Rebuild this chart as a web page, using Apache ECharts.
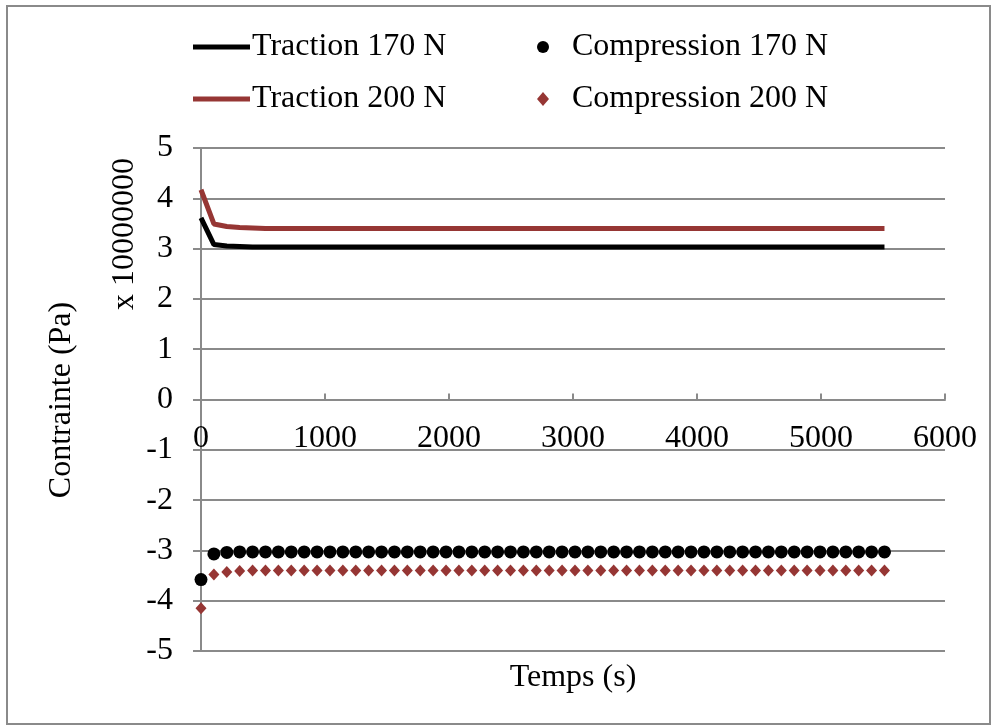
<!DOCTYPE html>
<html>
<head>
<meta charset="utf-8">
<script src="https://cdn.jsdelivr.net/npm/echarts@6/dist/echarts.min.js"></script>
<style>
  html, body { margin: 0; padding: 0; background: #fff; }
  #main { width: 997px; height: 726px; }
</style>
</head>
<body>
<div id="main"></div>
<script>
// temps (s)
var temps = [0, 104, 208, 312, 416, 520, 624, 728, 832, 936, 1040, 1144, 1248, 1352, 1456, 1560, 1664, 1768,
    1872, 1976, 2080, 2184, 2288, 2392, 2496, 2600, 2704, 2808, 2912, 3016, 3120, 3224, 3328, 3432, 3536,
    3640, 3744, 3848, 3952, 4056, 4160, 4264, 4368, 4472, 4576, 4680, 4784, 4888, 4992, 5096, 5200, 5304,
    5408, 5512];

// contrainte (x 10000000 Pa)
var traction170 = [3.61, 3.08, 3.05, 3.04, 3.03, 3.03, 3.03, 3.03, 3.03, 3.03, 3.03, 3.03, 3.03, 3.03,
    3.03, 3.03, 3.03, 3.03, 3.03, 3.03, 3.03, 3.03, 3.03, 3.03, 3.03, 3.03, 3.03, 3.03, 3.03, 3.03, 3.03,
    3.03, 3.03, 3.03, 3.03, 3.03, 3.03, 3.03, 3.03, 3.03, 3.03, 3.03, 3.03, 3.03, 3.03, 3.03, 3.03, 3.03,
    3.03, 3.03, 3.03, 3.03, 3.03, 3.03];
var traction200 = [4.17, 3.49, 3.44, 3.42, 3.41, 3.40, 3.40, 3.40, 3.40, 3.40, 3.40, 3.40, 3.40, 3.40,
    3.40, 3.40, 3.40, 3.40, 3.40, 3.40, 3.40, 3.40, 3.40, 3.40, 3.40, 3.40, 3.40, 3.40, 3.40, 3.40, 3.40,
    3.40, 3.40, 3.40, 3.40, 3.40, 3.40, 3.40, 3.40, 3.40, 3.40, 3.40, 3.40, 3.40, 3.40, 3.40, 3.40, 3.40,
    3.40, 3.40, 3.40, 3.40, 3.40, 3.40];
var compression170 = [-3.58, -3.07, -3.04, -3.03, -3.03, -3.03, -3.03, -3.03, -3.03, -3.03, -3.03, -3.03,
    -3.03, -3.03, -3.03, -3.03, -3.03, -3.03, -3.03, -3.03, -3.03, -3.03, -3.03, -3.03, -3.03, -3.03, -3.03,
    -3.03, -3.03, -3.03, -3.03, -3.03, -3.03, -3.03, -3.03, -3.03, -3.03, -3.03, -3.03, -3.03, -3.03, -3.03,
    -3.03, -3.03, -3.03, -3.03, -3.03, -3.03, -3.03, -3.03, -3.03, -3.03, -3.03, -3.03];
var compression200 = [-4.15, -3.48, -3.43, -3.41, -3.40, -3.40, -3.40, -3.40, -3.40, -3.40, -3.40, -3.40,
    -3.40, -3.40, -3.40, -3.40, -3.40, -3.40, -3.40, -3.40, -3.40, -3.40, -3.40, -3.40, -3.40, -3.40, -3.40,
    -3.40, -3.40, -3.40, -3.40, -3.40, -3.40, -3.40, -3.40, -3.40, -3.40, -3.40, -3.40, -3.40, -3.40, -3.40,
    -3.40, -3.40, -3.40, -3.40, -3.40, -3.40, -3.40, -3.40, -3.40, -3.40, -3.40, -3.40];

var noms = ['Traction 170 N', 'Traction 200 N', 'Compression 170 N', 'Compression 200 N'];

var police = '"Liberation Serif", "Times New Roman", serif';
var gris = '#8a8a8a';
var rouge = '#963634';
var taille = 32;

function paires(valeurs) {
    var out = [];
    for (var i = 0; i < temps.length; i++) {
        out.push([temps[i], valeurs[i]]);
    }
    return out;
}

var chart = echarts.init(document.getElementById('main'));

var option = {
    animation: false,
    backgroundColor: '#fff',
    textStyle: { fontFamily: police },
    grid: { left: 201, right: 52, top: 148, bottom: 75, containLabel: false },
    legend: [
        {
            data: [{ name: noms[0], icon: 'rect' }, { name: noms[1], icon: 'rect' }],
            orient: 'vertical',
            left: 193, top: 31, padding: 0,
            itemWidth: 57, itemHeight: 5,
            itemGap: 20,
            textStyle: { fontFamily: police, fontSize: taille, color: '#000', padding: [0, 0, 0, -3] }
        },
        {
            data: [noms[2], noms[3]],
            orient: 'vertical',
            left: 537, top: 31, padding: 0,
            itemWidth: 12, itemHeight: 14,
            itemGap: 20,
            textStyle: { fontFamily: police, fontSize: taille, color: '#000', padding: [0, 0, 0, 18] }
        }
    ],
    xAxis: {
        type: 'value',
        min: 0, max: 6000, interval: 1000,
        axisLine: { show: true, onZero: true, onZeroAxisIndex: 0, lineStyle: { color: gris, width: 2 } },
        axisTick: { show: true, inside: true, length: 6, lineStyle: { color: gris, width: 2 } },
        // les étiquettes restent en bas de la grille : on les remonte sous la ligne du zéro
        axisLabel: {
            fontFamily: police, fontSize: taille, color: '#000', margin: -228,
            formatter: function (v) { return String(v); }
        },
        splitLine: { show: false }
    },
    yAxis: {
        type: 'value',
        min: -5, max: 5, interval: 1,
        axisLine: { show: true, onZero: false, lineStyle: { color: gris, width: 2 } },
        axisTick: { show: true, inside: false, length: 8, lineStyle: { color: gris, width: 2 } },
        axisLabel: { fontFamily: police, fontSize: taille, color: '#000', margin: 28 },
        splitLine: { show: true, lineStyle: { color: gris, width: 2 } }
    },
    graphic: [
        {
            type: 'rect',
            shape: { x: 7, y: 6, width: 983, height: 718 },
            style: { fill: 'none', stroke: gris, lineWidth: 2 },
            silent: true
        },
        {
            type: 'text',
            x: 62, y: 400, rotation: Math.PI / 2,
            style: { text: 'Contrainte (Pa)', font: taille + 'px ' + police, fill: '#000', align: 'center', verticalAlign: 'middle' }
        },
        {
            type: 'text',
            x: 125, y: 234, rotation: Math.PI / 2,
            style: { text: 'x 10000000', font: taille + 'px ' + police, fill: '#000', align: 'center', verticalAlign: 'middle' }
        },
        {
            type: 'text',
            x: 573, y: 678,
            style: { text: 'Temps (s)', font: taille + 'px ' + police, fill: '#000', align: 'center', verticalAlign: 'middle' }
        }
    ],
    series: [
        {
            name: noms[0], type: 'line', data: paires(traction170),
            showSymbol: false, symbol: 'none',
            itemStyle: { color: '#000' },
            lineStyle: { color: '#000', width: 5 }
        },
        {
            name: noms[1], type: 'line', data: paires(traction200),
            showSymbol: false, symbol: 'none',
            itemStyle: { color: rouge },
            lineStyle: { color: rouge, width: 5 }
        },
        {
            name: noms[2], type: 'scatter', data: paires(compression170),
            symbol: 'circle', symbolSize: 13,
            itemStyle: { color: '#000', opacity: 1 }
        },
        {
            name: noms[3], type: 'scatter', data: paires(compression200),
            symbol: 'diamond', symbolSize: [11, 12],
            itemStyle: { color: rouge, opacity: 1 }
        }
    ]
};

chart.setOption(option);
</script>
</body>
</html>
